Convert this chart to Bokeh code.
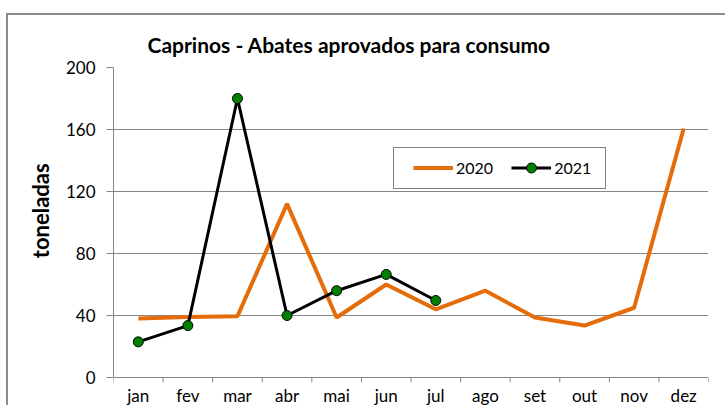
from bokeh.plotting import figure
from bokeh.models import Range1d, FixedTicker, Legend, LegendItem
from bokeh.embed import file_html
from bokeh.resources import INLINE

months = ["jan", "fev", "mar", "abr", "mai", "jun", "jul", "ago", "set", "out", "nov", "dez"]
v2020 = [38, 39, 39.5, 112, 38.7, 60, 44, 56, 38.7, 33.5, 45, 160.6]
v2021 = [23, 33.5, 180, 40, 56, 66.5, 49.7]
y_ticks = [0, 40, 80, 120, 160, 200]

FONT = "Lato"
GRAY = "#868686"
ORANGE = "#E46C0A"

# geometry: plot area 310 px tall for 0..200; extra 30 px below for month labels
PX_PER_UNIT = 310 / 200
Y_MIN = -30 / PX_PER_UNIT
TICK_LEN = 5 / PX_PER_UNIT
LABEL_GAP = 7 / PX_PER_UNIT

x20 = [i + 0.5 for i in range(len(v2020))]
x21 = [i + 0.5 for i in range(len(v2021))]
centers = [i + 0.5 for i in range(len(months))]
bounds = list(range(len(months) + 1))

p = figure(width=719, height=392, output_backend="svg", toolbar_location=None,
           x_range=Range1d(0, len(months)), y_range=Range1d(Y_MIN, 200),
           min_border_left=105, min_border_right=19, min_border_top=52, min_border_bottom=0)
p.styles = {"margin-left": "6px", "margin-top": "13px",
            "border-left": "2px solid #8c8c8c", "border-top": "2px solid #8c8c8c"}
p.outline_line_color = None
p.background_fill_color = "white"
p.border_fill_color = "white"

# title
p.title.text = "Caprinos - Abates aprovados para consumo"
p.title.text_font = FONT
p.title.text_font_size = "21px"
p.title.text_font_style = "bold"
p.title.text_color = "black"
p.title.align = "left"
p.title.offset = 34
p.title.standoff = 21

# y axis (label padded at its start so it sits centred on the 0..200 part)
ya = p.yaxis[0]
ya.bounds = (0, 200)
ya.ticker = FixedTicker(ticks=y_ticks)
ya.axis_line_color = GRAY
ya.major_tick_line_color = GRAY
ya.major_tick_out = 7
ya.major_tick_in = 0
ya.minor_tick_line_color = None
ya.major_label_standoff = 11
ya.major_label_text_font = FONT
ya.major_label_text_font_size = "17px"
ya.major_label_text_color = "black"
ya.axis_label = "\u00a0" * 10 + "toneladas"
ya.axis_label_text_font = FONT
ya.axis_label_text_font_size = "22px"
ya.axis_label_text_font_style = "bold"
ya.axis_label_text_color = "black"
ya.axis_label_standoff = 9

# x axis drawn inside the extended plot area
p.xaxis.visible = False
p.xgrid.grid_line_color = None
p.ygrid.ticker = FixedTicker(ticks=y_ticks)
p.ygrid.grid_line_color = GRAY
p.ygrid.grid_line_width = 1

p.segment(x0=bounds, y0=[0] * len(bounds), x1=bounds, y1=[-TICK_LEN] * len(bounds),
          line_color=GRAY, line_width=1)
p.text(x=centers, y=[-LABEL_GAP] * len(months), text=months,
       text_align="center", text_baseline="top",
       text_font={"value": FONT}, text_font_size="17px", text_color="black")

r20 = p.line(x20, v2020, line_color=ORANGE, line_width=4)
r21 = p.line(x21, v2021, line_color="black", line_width=3)
r21c = p.scatter(x21, v2021, size=10, fill_color="#008000", line_color="black", line_width=1)

legend = Legend(items=[LegendItem(label="2020", renderers=[r20]),
                       LegendItem(label="2021", renderers=[r21, r21c])],
                orientation="horizontal", location=(280, 218))
legend.border_line_color = "black"
legend.border_line_width = 1
legend.background_fill_alpha = 1
legend.padding = dict(left=19, right=14, top=7, bottom=8)
legend.spacing = 18
legend.margin = 0
legend.glyph_width = 40
legend.glyph_height = 25
legend.label_height = 25
legend.label_standoff = 3
legend.label_text_font = FONT
legend.label_text_font_size = "16px"
legend.label_text_color = "black"
p.add_layout(legend)

open("out.html", "w").write(file_html(p, INLINE))
